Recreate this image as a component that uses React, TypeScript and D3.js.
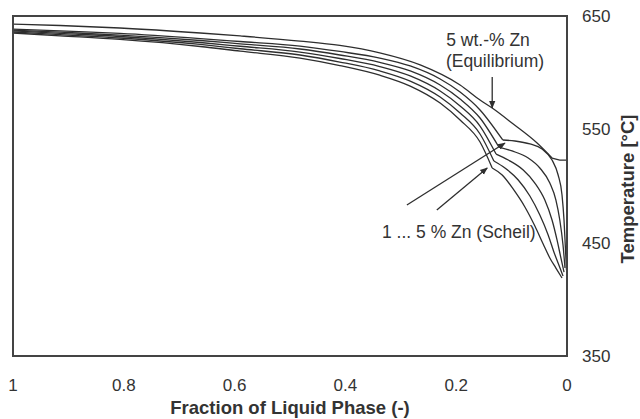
import React from "react";
import * as d3 from "d3";

const W = 640;
const H = 419;

const xTicks = [1, 0.8, 0.6, 0.4, 0.2, 0];
const xTickLabels = ["1", "0.8", "0.6", "0.4", "0.2", "0"];
const yTicks = [350, 450, 550, 650];
const yTickLabels = ["350", "450", "550", "650"];

// [fraction of liquid, temperature °C]
const equilibrium: [number, number][] = [
  [1, 642.9], [0.915, 641.6], [0.807, 639.4], [0.662, 635.0], [0.59, 632.4], [0.482, 627.9], [0.41, 624.0],
  [0.338, 617.4], [0.265, 606.8], [0.193, 589.1], [0.157, 575.9], [0.135, 568.8], [0.097, 554.7], [0.054, 537.9],
  [0.027, 524.7], [0.013, 522.9], [0, 522.9],
];
const EQ_CORNER = 14;

const scheil1: [number, number][] = [
  [1, 638.5], [0.915, 636.8], [0.807, 634.6], [0.662, 630.1], [0.59, 627.5], [0.482, 623.5], [0.41, 618.7],
  [0.338, 612.9], [0.283, 605.9], [0.229, 594.4], [0.193, 582.9], [0.157, 567.1], [0.116, 540.6],
  [0.094, 539.7], [0.067, 537.1], [0.045, 532.6], [0.027, 522.9], [0.016, 509.7], [0.009, 492.1], [0.0054, 470.0],
  [0.0027, 443.5], [0.0009, 425.9],
];
const scheil2: [number, number][] = [
  [1, 637.6], [0.915, 635.7], [0.807, 633.2], [0.662, 628.4], [0.59, 625.4], [0.482, 620.9], [0.41, 615.6],
  [0.338, 609.1], [0.283, 601.5], [0.229, 589.1], [0.193, 576.8], [0.157, 560.0], [0.123, 534.4],
  [0.099, 530.9], [0.07, 524.7], [0.049, 515.9], [0.031, 502.6], [0.02, 487.6], [0.013, 470.0], [0.0072, 447.9],
  [0.0036, 427.6],
];
const scheil3: [number, number][] = [
  [1, 636.8], [0.915, 634.6], [0.807, 631.9], [0.662, 626.6], [0.59, 623.3], [0.482, 618.2], [0.41, 612.5],
  [0.338, 605.4], [0.283, 597.1], [0.229, 583.8], [0.193, 570.6], [0.157, 552.9], [0.128, 528.2],
  [0.106, 522.9], [0.079, 514.1], [0.058, 502.6], [0.04, 487.6], [0.027, 470.0], [0.018, 452.4], [0.011, 436.5],
  [0.0054, 424.1],
];
const scheil4: [number, number][] = [
  [1, 635.9], [0.915, 633.6], [0.807, 630.6], [0.662, 624.9], [0.59, 621.1], [0.482, 615.6], [0.41, 609.4],
  [0.338, 601.6], [0.283, 592.6], [0.229, 578.5], [0.193, 564.4], [0.157, 545.9], [0.132, 522.1],
  [0.112, 515.9], [0.088, 505.3], [0.067, 491.2], [0.049, 474.4], [0.034, 456.8], [0.023, 440.9], [0.014, 429.4],
  [0.0072, 420.6],
];
const scheil5: [number, number][] = [
  [1, 635.0], [0.915, 632.5], [0.807, 629.3], [0.662, 623.1], [0.59, 619.0], [0.482, 612.9], [0.41, 606.3],
  [0.338, 597.8], [0.283, 588.2], [0.229, 573.2], [0.193, 558.2], [0.157, 538.8], [0.135, 515.9],
  [0.117, 509.7], [0.096, 496.5], [0.076, 481.5], [0.058, 464.7], [0.043, 448.8], [0.031, 436.5], [0.02, 427.6],
  [0.009, 418.8],
];
const scheilCurves = [scheil1, scheil2, scheil3, scheil4, scheil5];
const KINK = 12;

// annotation arrows: [tail, tip] in data coordinates
const arrows: [[number, number], [number, number]][] = [
  [[0.135, 596.2], [0.135, 568.8]],
  [[0.289, 483.2], [0.112, 537.9]],
  [[0.235, 478.8], [0.144, 515.9]],
];

const margin = { left: 13, right: 73, top: 16, bottom: 63 };

export default function App() {
  const x = d3.scaleLinear().domain([1, 0]).range([margin.left, W - margin.right]);
  const y = d3.scaleLinear().domain([350, 650]).range([H - margin.bottom, margin.top]);
  const line = d3
    .line<[number, number]>()
    .x((d) => x(d[0]))
    .y((d) => y(d[1]))
    .curve(d3.curveMonotoneX);
  const lineLin = d3
    .line<[number, number]>()
    .x((d) => x(d[0]))
    .y((d) => y(d[1]));

  const font = "'Liberation Sans', Arial, sans-serif";
  const curveColor = "#2e2e2e";

  return (
    <svg width={W} height={H} style={{ position: "absolute", left: 0, top: 0, background: "#fff" }} fontFamily={font}>
      <defs>
        <marker id="ah" viewBox="0 0 10 10" refX="9" refY="5" markerWidth="6" markerHeight="6" orient="auto">
          <path d="M0,1 L10,5 L0,9 z" fill="#2e2e2e" />
        </marker>
      </defs>
      {/* curves */}
      <path d={line(equilibrium.slice(0, EQ_CORNER + 1)) || ""} fill="none" stroke={curveColor} strokeWidth={1.3} />
      <path d={lineLin(equilibrium.slice(EQ_CORNER)) || ""} fill="none" stroke={curveColor} strokeWidth={1.3} />
      {scheilCurves.map((c, i) => (
        <g key={i}>
          <path d={line(c.slice(0, KINK + 1)) || ""} fill="none" stroke={curveColor} strokeWidth={1.3} />
          <path d={line(c.slice(KINK)) || ""} fill="none" stroke={curveColor} strokeWidth={1.3} />
        </g>
      ))}
      {/* frame */}
      <rect
        x={margin.left}
        y={margin.top}
        width={W - margin.left - margin.right}
        height={H - margin.top - margin.bottom}
        fill="none"
        stroke="#444"
        strokeWidth={2}
      />
      {/* arrows */}
      {arrows.map((a, i) => (
        <line
          key={i}
          x1={x(a[0][0])}
          y1={y(a[0][1])}
          x2={x(a[1][0])}
          y2={y(a[1][1])}
          stroke={curveColor}
          strokeWidth={1.3}
          markerEnd="url(#ah)"
        />
      ))}
      {/* annotation text */}
      <text x={488} y={46} textAnchor="middle" fontSize={17.5} fill="#333">5 wt.-% Zn</text>
      <text x={495} y={67} textAnchor="middle" fontSize={17.5} fill="#333">(Equilibrium)</text>
      <text x={382} y={238} fontSize={17.5} fill="#333">1 ... 5 % Zn (Scheil)</text>
      {/* x tick labels */}
      {xTicks.map((t, i) => (
        <text key={i} x={x(t)} y={391} textAnchor="middle" fontSize={17} fill="#333">
          {xTickLabels[i]}
        </text>
      ))}
      {/* y tick labels */}
      {yTicks.map((t, i) => (
        <text key={i} x={582} y={y(t) + 6} fontSize={17} fill="#333">
          {yTickLabels[i]}
        </text>
      ))}
      <text x={290} y={414} textAnchor="middle" fontSize={18.5} fontWeight="bold" fill="#333">
        Fraction of Liquid Phase (-)
      </text>
      <text
        transform="translate(634, 189) rotate(-90)"
        textAnchor="middle"
        fontSize={18.5}
        fontWeight="bold"
        fill="#333"
      >
        Temperature [°C]
      </text>
    </svg>
  );
}
